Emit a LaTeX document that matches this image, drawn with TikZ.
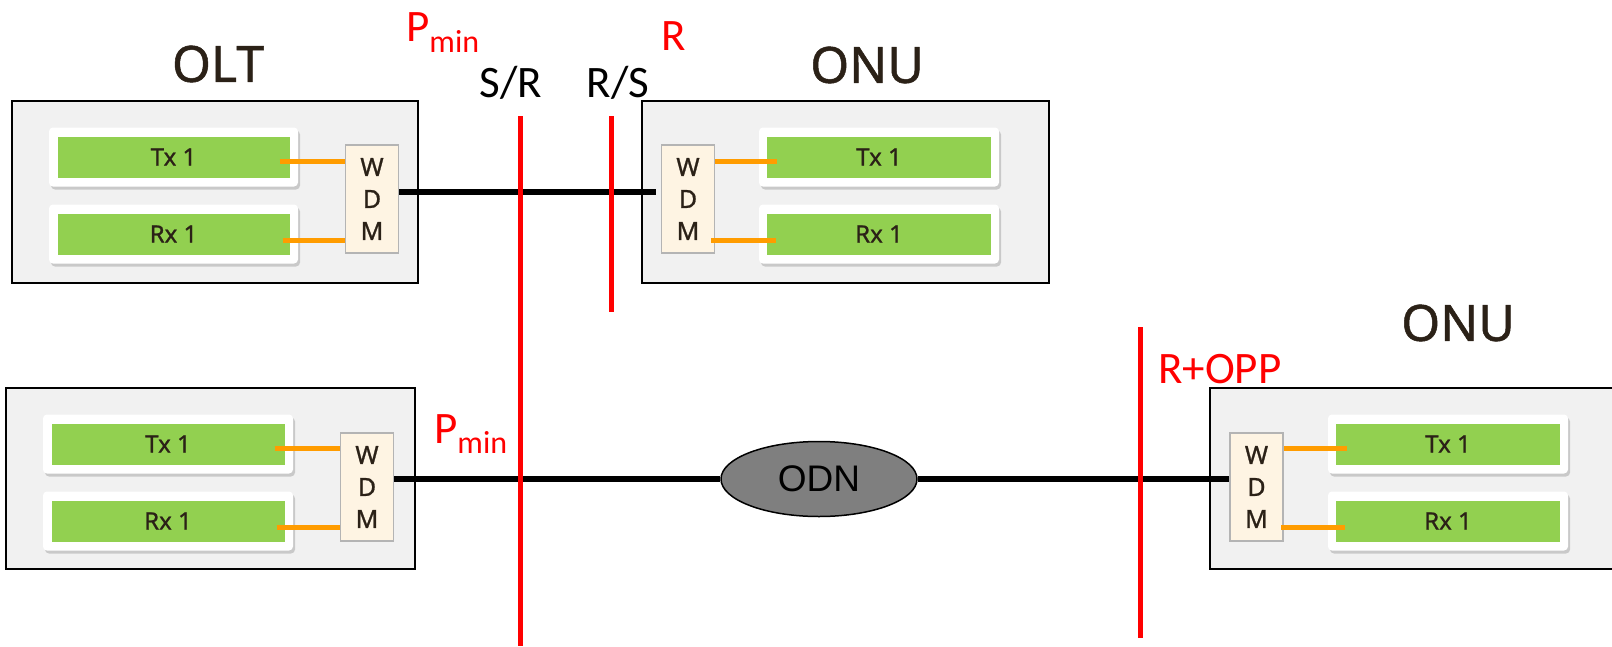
\documentclass[tikz,border=0pt]{standalone}
\usepackage{fontspec}
\usepackage{tikz}
\usetikzlibrary{positioning,calc,shapes.geometric,shadows}
\newfontfamily\notofont{Noto Sans}[UprightFeatures={FakeBold=1}]
\newfontfamily\calfont{Carlito}
\newfontfamily\arialfont{Liberation Sans}
\definecolor{ink}{HTML}{2B2117}
\definecolor{boxgray}{HTML}{F1F1F1}
\definecolor{lanegreen}{HTML}{92D050}
\definecolor{wdmcream}{HTML}{FEF4E3}
\definecolor{wdmgray}{HTML}{B4B4B4}
\definecolor{linkorange}{HTML}{FF9C00}
\definecolor{odngray}{HTML}{7F7F7F}

\begin{document}
\begin{tikzpicture}[x=1pt, y=-1pt,
  unitbox/.style={draw=black, line width=2, fill=boxgray, inner sep=0},
  lanebox/.style={fill=white, rounded corners=4, inner sep=0, minimum height=59,
    drop shadow={shadow xshift=2pt, shadow yshift=-3pt, opacity=.35}},
  lane/.style={fill=lanegreen, inner sep=0, minimum height=41, text=ink, font=\notofont\fontsize{24}{24}\selectfont},
  wdm/.style={draw=wdmgray, line width=1.5, fill=wdmcream, inner sep=0, minimum width=53, minimum height=108,
    align=center, text=ink, font=\notofont\fontsize{25}{32}\selectfont},
  olink/.style={draw=linkorange, line width=5},
  fiber/.style={draw=black, line width=6.5},
  refline/.style={draw=red, line width=5},
  unitname/.style={text=ink, inner sep=0, font=\notofont\fontsize{50}{50}\selectfont},
  refpt/.style={inner sep=0, anchor=base, font=\calfont\fontsize{45}{45}\selectfont},
  redpt/.style={refpt, anchor=base west, text=red}]
\useasboundingbox (0,0) rectangle (1612,646);

% OLT, top
\node[unitbox, minimum width=406, minimum height=182] (olt) at (215,192) {};
\node[unitname] (oltname) at (218,64) {OLT};
\node[lanebox, minimum width=249] (oltxf) at (173.5,157) {};
\node[lane, minimum width=232] (oltx) at (oltxf) {Tx 1};
\node[lanebox, minimum width=249] (olrxf) at (173.5,234) {};
\node[lane, minimum width=232] (olrx) at (olrxf) {Rx 1};
\node[wdm] (olwdm) at (372,199) {W\\D\\M};
\draw[olink] ($(oltx.east)+(-10,4)$) coordinate (a1) -- (a1 -| olwdm.west);
\draw[olink] ($(olrx.east)+(-7,6)$) coordinate (a2) -- (a2 -| olwdm.west);

% ONU, top
\node[unitbox, minimum width=407, minimum height=182] (onu) at (845.5,192) {};
\node[unitname] (onuname) at (867,65) {ONU};
\node[wdm] (onwdm) at (688,199) {W\\D\\M};
\node[lanebox, minimum width=240] (ontxf) at (879,157) {};
\node[lane, minimum width=224] (ontx) at (ontxf) {Tx 1};
\node[lanebox, minimum width=240] (onrxf) at (879,234) {};
\node[lane, minimum width=224] (onrx) at (onrxf) {Rx 1};
\draw[olink] ($(ontx.west)+(10,4)$) coordinate (b1) -- (b1 -| onwdm.east);
\draw[olink] ($(onrx.west)+(9,6)$) coordinate (b2) -- ([xshift=-4pt]b2 -| onwdm.east);

% OLT, bottom
\node[unitbox, minimum width=409, minimum height=181] (olt2) at (210.5,478.5) {};
\node[lanebox, minimum width=250] (bltxf) at (168,444) {};
\node[lane, minimum width=233] (bltx) at (bltxf) {Tx 1};
\node[lanebox, minimum width=250] (blrxf) at (168,521) {};
\node[lane, minimum width=233] (blrx) at (blrxf) {Rx 1};
\node[wdm] (blwdm) at (367,487) {W\\D\\M};
\draw[olink] ($(bltx.east)+(-10,4)$) coordinate (c1) -- (c1 -| blwdm.west);
\draw[olink] ($(blrx.east)+(-8,6)$) coordinate (c2) -- (c2 -| blwdm.west);

% ONU, right
\node[unitbox, minimum width=406, minimum height=181] (onu2) at (1413,478.5) {};
\node[unitname] (onu2name) at (1458,323) {ONU};
\node[wdm] (rwdm) at (1256.5,487) {W\\D\\M};
\node[lanebox, minimum width=240] (rtxf) at (1448,444) {};
\node[lane, minimum width=224] (rtx) at (rtxf) {Tx 1};
\node[lanebox, minimum width=240] (rrxf) at (1448,521) {};
\node[lane, minimum width=224] (rrx) at (rrxf) {Rx 1};
\draw[olink] ($(rtx.west)+(11,4)$) coordinate (d1) -- (d1 -| rwdm.east);
\draw[olink] ($(rrx.west)+(9,6)$) coordinate (d2) -- ([xshift=-3pt]d2 -| rwdm.east);

% ODN
\node[draw=black, line width=1.5, ellipse, fill=odngray, minimum width=196, minimum height=75, inner sep=0,
  font=\arialfont\fontsize{37}{37}\selectfont] (odn) at (819,479) {ODN};

% fibres
\draw[fiber, shorten >=5pt] ($(olwdm.east)+(0,-7)$) coordinate (f1) -- (f1 -| onwdm.west);
\draw[fiber] (blwdm.east |- odn.west) -- (odn.west);
\draw[fiber] (odn.east) -- (odn.east -| rwdm.west);

% reference points
\coordinate (srtop) at (520,116);
\coordinate (srbot) at (520,646);
\coordinate (rstop) at (611,116);
\coordinate (rsbot) at (611,312);
\coordinate (optop) at (1140,327);
\coordinate (opbot) at (1140,638);
\draw[refline] (srtop) -- (srbot);
\draw[refline] (rstop) -- (rsbot);
\draw[refline] (optop) -- (opbot);
\node[refpt] (srname) at (511,97) {S/R};
\node[refpt] (rsname) at (618,97) {R/S};
\node[redpt] (pmin1) at (406,41) {P\raisebox{-11pt}{\fontsize{32}{32}\selectfont min}};
\node[redpt] (rname) at (661,50) {R};
\node[redpt] (pmin2) at (434,443) {P\raisebox{-10pt}{\fontsize{32}{32}\selectfont min}};
\node[redpt] (opname) at (1158,383) {R+OPP};
\end{tikzpicture}
\end{document}
